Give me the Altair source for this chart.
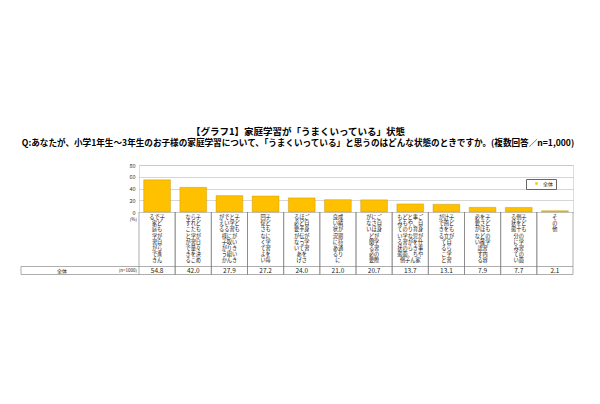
import altair as alt
import pandas as pd

FONT = "Noto Sans CJK JP"

title_text = "【グラフ1】家庭学習が「うまくいっている」状態"
subtitle_text = "Q:あなたが、小学1年生～3年生のお子様の家庭学習について、「うまくいっている」と思うのはどんな状態のときですか。(複数回答／n=1,000)"

categories = [
    "子どもが自ら進んで家庭学習ができる",
    "子どもが日々決められた学習量をこなすことができる",
    "子どもがいきいきと学習に取り組んでいる様子がうかがえる",
    "子どもに学習を毎回促さなくてよい",
    "ご自身が学習をさほど手伝ってあげる必要がない",
    "成績が期待通りに良い状況にある",
    "ご自身が学習の際にさほど関る必要がない",
    "ご自身が仕事や家事、育児をきちんとやりながら、子どもの学習の面倒もみている状態",
    "子どもが自ら学習計画を立てることができる",
    "子どもの学習内容をさほど確認する必要がない",
    "子どもの学習の面倒を十分にみている状態",
    "その他",
]
values = [54.8, 42.0, 27.9, 27.2, 24.0, 21.0, 20.7, 13.7, 13.1, 7.9, 7.7, 2.1]
series_name = "全体"
sample_label = "(n=1000)"
unit_label = "(%)"
y_ticks = [0, 20, 40, 60, 80]


def vertical(s, n=8):
    """Lay a label out as vertical Japanese text: columns of n characters,
    read right to left; returned as a list of horizontal lines."""
    cols = [s[i:i + n] for i in range(0, len(s), n)]
    rows = max(len(c) for c in cols)
    lines = []
    for r in range(rows):
        lines.append("".join(c[r] if r < len(c) else "\u3000" for c in reversed(cols)))
    return lines


df = pd.DataFrame({
    "cat": categories,
    "value": values,
    "series": [series_name] * len(categories),
    "vert": [vertical(c) for c in categories],
})

W, H = 434, 47
ROW_TOP = 101.5
ROW_BOT = 109.5
LEFT = -118

base = alt.Chart(df)
xs = alt.Scale(paddingInner=0, paddingOuter=0)


def xenc(**kw):
    return alt.X("cat:N", sort=categories, scale=xs, axis=None, **kw)


bars = base.mark_bar(
    width=alt.RelativeBandSize(band=0.74), stroke="#B8900A", strokeWidth=0.4
).encode(
    x=xenc(),
    y=alt.Y(
        "value:Q",
        scale=alt.Scale(domain=[0, 80], nice=False),
        axis=alt.Axis(
            values=y_ticks, title=None, domain=False, ticks=False,
            labelFontSize=5.5, labelColor="#333", labelPadding=4,
            gridColor="#bbbbbb", gridWidth=0.6, labelFont=FONT,
        ),
    ),
    color=alt.Color(
        "series:N",
        scale=alt.Scale(domain=[series_name], range=["#FFC000"]),
        legend=alt.Legend(
            orient="none", legendX=387, legendY=14, title=None,
            strokeColor="#666", fillColor="white", padding=2,
            symbolType="square", symbolSize=6, symbolOffset=6,
            labelFontSize=5, labelFont=FONT, labelColor="#222",
            symbolStrokeWidth=0,
        ),
    ),
)

vl0 = base.mark_rule(color="#777", strokeWidth=0.6).encode(
    x=xenc(bandPosition=0), y=alt.value(H), y2=alt.value(ROW_BOT)
)
vl1 = base.mark_rule(color="#777", strokeWidth=0.6).encode(
    x=xenc(bandPosition=1), y=alt.value(H), y2=alt.value(ROW_BOT)
)

one = alt.Chart(pd.DataFrame({"k": [1]}))
h1 = one.mark_rule(color="#777", strokeWidth=0.6).encode(
    x=alt.value(LEFT), x2=alt.value(W), y=alt.value(ROW_TOP)
)
h2 = one.mark_rule(color="#777", strokeWidth=0.6).encode(
    x=alt.value(LEFT), x2=alt.value(W), y=alt.value(ROW_BOT)
)
vleft = one.mark_rule(color="#777", strokeWidth=0.6).encode(
    x=alt.value(LEFT), y=alt.value(ROW_TOP), y2=alt.value(ROW_BOT)
)

cat_text = base.mark_text(
    lineHeight=6.2, baseline="top", align="center",
    fontSize=5.2, font=FONT, color="#111",
).encode(x=xenc(), y=alt.value(50), text="vert")

val_text = base.mark_text(
    baseline="middle", align="center", fontSize=6.5, font=FONT, color="#222"
).encode(
    x=xenc(), y=alt.value((ROW_TOP + ROW_BOT) / 2),
    text=alt.Text("value:Q", format=".1f"),
)

lbl_df = pd.DataFrame({"t": [series_name]})
row_name = alt.Chart(lbl_df).mark_text(
    baseline="middle", align="center", fontSize=5, font=FONT, color="#222"
).encode(x=alt.value(-77), y=alt.value((ROW_TOP + ROW_BOT) / 2), text="t:N")

n_df = pd.DataFrame({"t": [sample_label]})
n_text = alt.Chart(n_df).mark_text(
    baseline="middle", align="right", fontSize=4.5, font=FONT, color="#222"
).encode(x=alt.value(-2), y=alt.value((ROW_TOP + ROW_BOT) / 2), text="t:N")

u_df = pd.DataFrame({"t": [unit_label]})
u_text = alt.Chart(u_df).mark_text(
    baseline="middle", align="right", fontSize=4.5, font=FONT, color="#222"
).encode(x=alt.value(-2), y=alt.value(55), text="t:N")

chart = alt.layer(
    bars, vl0, vl1, h1, h2, vleft, cat_text, val_text, row_name, n_text, u_text
).properties(
    width=W,
    height=H,
    title=alt.TitleParams(
        text=title_text, subtitle=subtitle_text, anchor="middle", frame="group",
        dx=-58, offset=15, fontSize=9.5, subtitleFontSize=8.6,
        font=FONT, subtitleFont=FONT, fontWeight="bold", subtitleFontWeight="bold",
        color="black", subtitleColor="black", subtitlePadding=3,
    ),
    padding={"left": 131, "top": 157, "right": 15, "bottom": 100},
    autosize=alt.AutoSizeParams(type="none"),
).configure_view(stroke="#999", strokeWidth=0.8).configure(font=FONT, background="white")

chart.save("out.html", embed_options={"renderer": "svg", "actions": False})
